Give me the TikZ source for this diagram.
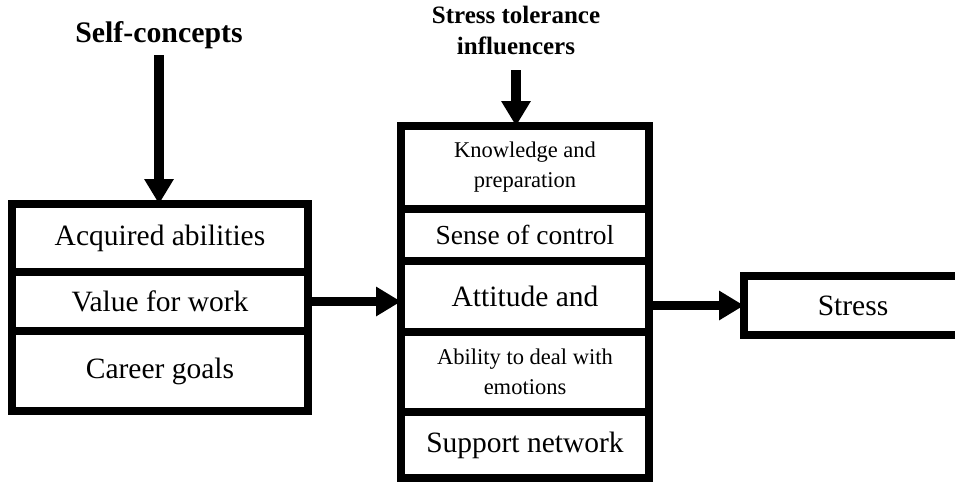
\documentclass[tikz,border=0pt]{standalone}
\usepackage{fontspec}
\setmainfont{Liberation Serif}
\usetikzlibrary{arrows.meta}
\newcommand{\rowfont}{\fontsize{29.5}{34}\selectfont}
\newcommand{\smallrowfont}{\fontsize{22.5}{30}\selectfont}
\newcommand{\headfont}{\fontsize{29.8}{34}\selectfont\bfseries}
\newcommand{\subheadfont}{\fontsize{25}{31}\selectfont\bfseries}

\begin{document}
\begin{tikzpicture}[
            x=1pt, y=-1pt,
            rowbox/.style={
                draw,
                line width=7.6pt,
                outer sep=0pt,
                inner sep=0pt,
                align=center,
                font=\rowfont
            },
            leftrow/.style={
                rowbox,
                minimum width=296pt
            },
            midrow/.style={
                rowbox,
                minimum width=248pt
            },
            smallrow/.style={
                midrow,
                font=\smallrowfont
            },
            heading/.style={
                inner sep=0pt,
                align=center
            },
            bigarrow/.style={
                -{Triangle[length=25pt,width=28pt]},
                line width=9.5pt
            }
        ]
        \useasboundingbox (0,0) rectangle (955,482);
        \clip (0,0) rectangle (955,482);

        % --- Self-concepts ---
        \node[heading, font=\headfont, anchor=base] (selfc) at (159,42)
            {Self-concepts};

        \node[leftrow, minimum height=68pt, anchor=north]
            (acquired) at (160,204) {Acquired abilities};

        \node[leftrow, minimum height=59pt, anchor=north]
            (value) at (acquired.south) {Value for work};

        \node[leftrow, minimum height=80pt, anchor=north]
            (career) at (value.south) {Career goals};

        \draw[bigarrow] ([yshift=-6.5pt]selfc.south) -- (selfc.south |- acquired.north);

        % --- Stress tolerance influencers ---
        \node[heading, font=\subheadfont, anchor=south] (tolerance) at (516,55)
            {Stress tolerance\\influencers};

        \node[smallrow, minimum height=83pt, anchor=north]
            (knowledge) at (525,126) {Knowledge and\\preparation};

        \node[midrow, minimum height=52pt, anchor=north, font=\fontsize{27.5}{32}\selectfont]
            (control) at (knowledge.south) {Sense of control};

        \node[midrow, minimum height=71pt, anchor=north]
            (attitude) at (control.south) {Attitude and};

        \node[smallrow, minimum height=80pt, anchor=north]
            (emotions) at (attitude.south) {Ability to deal with\\emotions};

        \node[midrow, minimum height=66pt, anchor=north]
            (support) at (emotions.south) {Support network};

        \draw[bigarrow] ([yshift=-15pt]tolerance.south) -- (tolerance.south |- knowledge.north);

        % --- Stress ---
        \node[rowbox, minimum width=218pt, minimum height=59pt, anchor=west]
            (stress) at (744,305.5) {Stress};

        \draw[bigarrow] (value.east) -- (value.east -| attitude.west);
        \draw[bigarrow] (stress.west -| attitude.east) -- (stress.west);

        \end{tikzpicture}
\end{document}
